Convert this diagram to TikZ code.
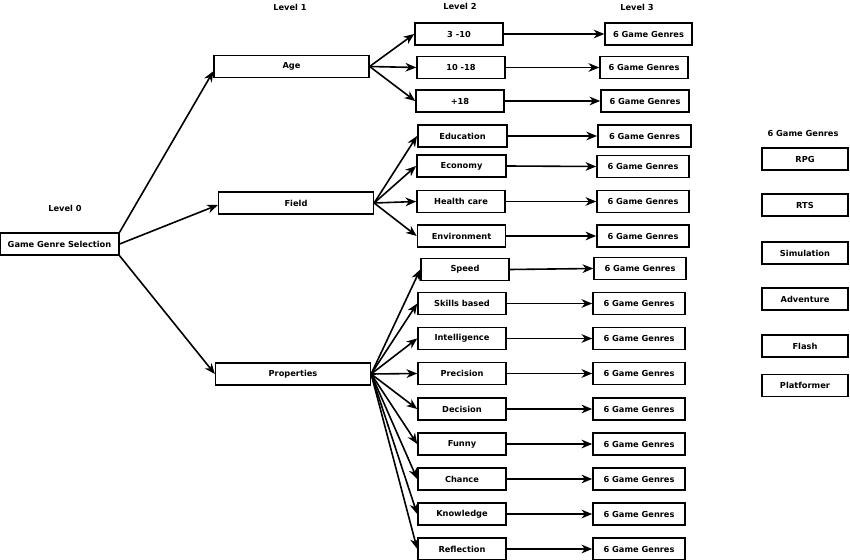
\documentclass[tikz,border=0pt]{standalone}
\usepackage{fontspec}
\setmainfont{DejaVu Sans}
\usetikzlibrary{arrows.meta}
\begin{document}
\begin{tikzpicture}[x=0.75pt,y=-0.75pt,
  every node/.style={font=\fontsize{6.2}{7}\selectfont\bfseries},
  box/.style={draw,line width=1.2pt,minimum height=16.5pt,inner sep=0pt,fill=white},
  lone/.style={box,minimum width=116pt},
  ltwo/.style={box,minimum width=66pt},
  lthree/.style={box,minimum width=67pt},
  gbox/.style={box,minimum width=64.5pt},
  lbl/.style={inner sep=0pt},
  conn/.style={line width=1.2pt,-{Stealth[length=8pt,width=6.5pt,inset=2.5pt]}}]
\useasboundingbox (0,0) rectangle (850,560);
% labels
\node[lbl] (l0) at (65,208) {Level 0};
\node[lbl] (l1) at (290,7) {Level 1};
\node[lbl] (l2) at (460,6) {Level 2};
\node[lbl] (l3) at (637,7) {Level 3};
\node[lbl] (gt) at (803,133) {6 Game Genres};
% level 0
\node[box,minimum width=89pt] (root) at (59.5,244) {Game Genre Selection};
% level 1
\node[lone] (age) at (291.5,66.5) {Age};
\node[lone] (field) at (296,203) {Field};
\node[lone] (prop) at (293,374) {Properties};
% level 2
\node[ltwo] (a1) at (459,34) {3 -10};
\node[ltwo] (a2) at (461,67.5) {10 -18};
\node[ltwo] (a3) at (460,101) {+18};
\node[ltwo,minimum width=67pt] (f1) at (462.5,136) {Education};
\node[ltwo,minimum width=67pt] (f2) at (461.5,166) {Economy};
\node[ltwo] (f3) at (461,201.5) {Health care};
\node[ltwo] (f4) at (461.5,236) {Environment};
\node[ltwo] (p1) at (465,269.5) {Speed};
\node[ltwo] (p2) at (462,303.5) {Skills based};
\node[ltwo] (p3) at (462,338.5) {Intelligence};
\node[ltwo] (p4) at (462,373.5) {Precision};
\node[ltwo] (p5) at (462,409) {Decision};
\node[ltwo] (p6) at (462,444) {Funny};
\node[ltwo] (p7) at (462,479) {Chance};
\node[ltwo] (p8) at (462,514) {Knowledge};
\node[ltwo] (p9) at (462,549) {Reflection};
% level 3
\node[lthree,minimum width=65pt] (ga1) at (648.5,34) {6 Game Genres};
\node[lthree,minimum width=66pt] (ga2) at (644,67.5) {6 Game Genres};
\node[lthree,minimum width=66pt] (ga3) at (645,101) {6 Game Genres};
\node[lthree,minimum width=70pt] (gf1) at (644.5,136) {6 Game Genres};
\node[lthree,minimum width=69pt] (gf2) at (643,166.5) {6 Game Genres};
\node[lthree,minimum width=69pt] (gf3) at (643,201.5) {6 Game Genres};
\node[lthree,minimum width=69pt] (gf4) at (643,236) {6 Game Genres};
\node[lthree,minimum width=69pt] (gp1) at (640,268.5) {6 Game Genres};
\node[lthree,minimum width=69pt] (gp2) at (639,303.5) {6 Game Genres};
\node[lthree,minimum width=69pt] (gp3) at (639,338.5) {6 Game Genres};
\node[lthree,minimum width=69pt] (gp4) at (639,373.5) {6 Game Genres};
\node[lthree,minimum width=69pt] (gp5) at (639,409) {6 Game Genres};
\node[lthree,minimum width=69pt] (gp6) at (639,444) {6 Game Genres};
\node[lthree,minimum width=69pt] (gp7) at (639,479) {6 Game Genres};
\node[lthree,minimum width=69pt] (gp8) at (639,514) {6 Game Genres};
\node[lthree,minimum width=69pt] (gp9) at (639,549) {6 Game Genres};
% genres column
\node[gbox] (g1) at (805,159) {RPG};
\node[gbox] (g2) at (805,205) {RTS};
\node[gbox] (g3) at (805,253) {Simulation};
\node[gbox] (g4) at (805,299) {Adventure};
\node[gbox] (g5) at (805,346) {Flash};
\node[gbox] (g6) at (805,385.5) {Platformer};
% connectors level 0 -> 1
\draw[conn] (root.north east) -- ([yshift=-3.5pt]age.west);
\draw[conn] (root.east) -- ([yshift=-1.5pt]field.west);
\draw[conn] (root.south east) -- (prop.west);
% level 1 -> 2
\foreach \c in {a1,a2,a3} \draw[conn] (age.east) -- (\c.west);
\foreach \c in {f1,f2,f3,f4} \draw[conn] (field.east) -- (\c.west);
\foreach \c in {p1,p2,p3,p4,p5,p6,p7,p8,p9} \draw[conn] (prop.east) -- (\c.west);
% level 2 -> 3
\foreach \a/\b in {a1/ga1,a2/ga2,a3/ga3,f1/gf1,f2/gf2,f3/gf3,f4/gf4,p1/gp1,p2/gp2,p3/gp3,p4/gp4,p5/gp5,p6/gp6,p7/gp7,p8/gp8,p9/gp9}
  \draw[conn] (\a.east) -- (\b.west);
\end{tikzpicture}
\end{document}
